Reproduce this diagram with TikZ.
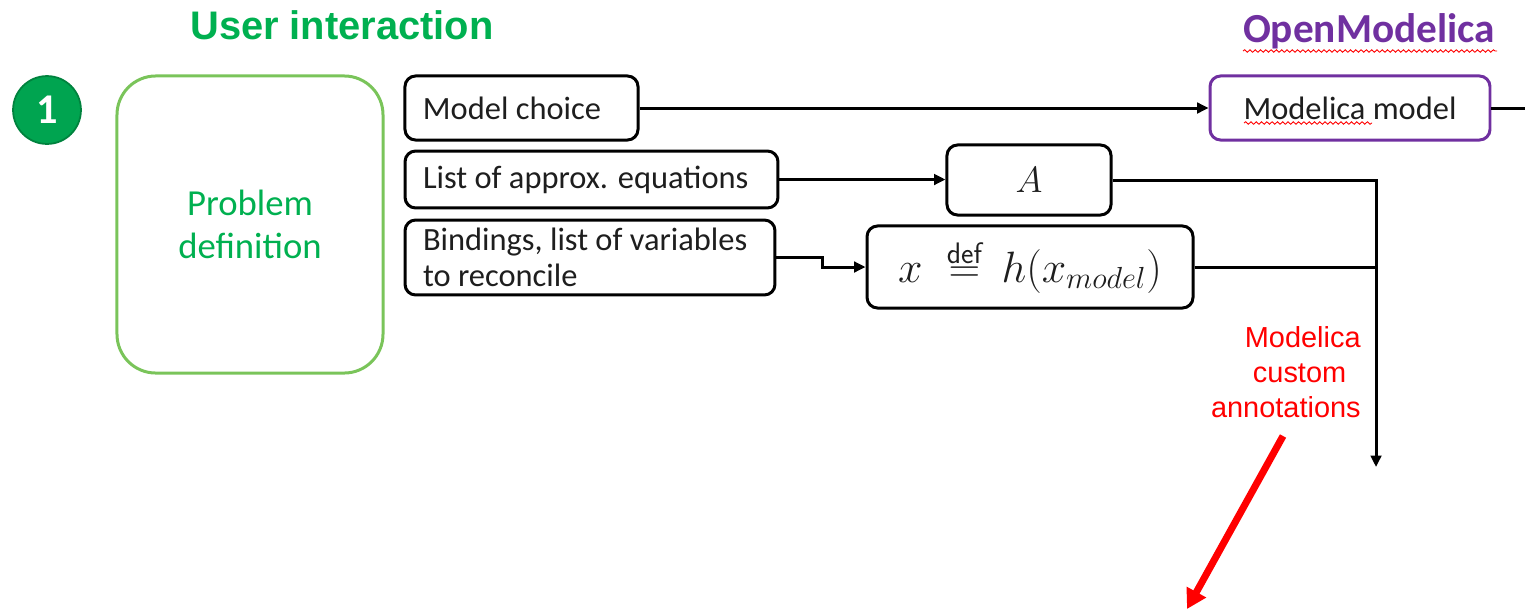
\documentclass[tikz,border=0pt]{standalone}
\usepackage{fontspec}
\setmainfont{Carlito}
\newfontfamily\arialf{Liberation Sans}
\usetikzlibrary{arrows.meta,decorations.pathmorphing}
\definecolor{uigreen}{RGB}{0,176,80}
\definecolor{boxgreen}{RGB}{122,196,90}
\definecolor{circgreen}{RGB}{0,164,80}
\definecolor{circedge}{RGB}{0,130,62}
\definecolor{ompurple}{RGB}{112,48,160}
\definecolor{txtgray}{RGB}{30,30,30}
\begin{document}
\begin{tikzpicture}[x=0.5669pt,y=-0.5669pt,
  box/.style={draw=black, line width=1.7pt, rounded corners=6pt, inner sep=0pt,
    font=\fontsize{18.4}{20.5}\selectfont, text=txtgray},
  lbox/.style={box, align=flush left, inner xsep=10.2pt},
  conn/.style={line width=1.7pt, draw=black},
  arr/.style={conn, -{Triangle[length=6.5pt,width=6pt]}},
  wavy/.style={draw=red, line width=0.5pt, decorate,
    decoration={snake, amplitude=0.7pt, segment length=3pt}}]
\useasboundingbox (0,0) rectangle (1525,613);

% titles
\node[font=\arialf\bfseries\fontsize{22.6}{26}\selectfont, text=uigreen] (title) at (342,25) {User interaction};
\node[font=\bfseries\fontsize{23.4}{27}\selectfont, text=ompurple] (om) at (1369,31) {OpenModelica};
\draw[wavy] (1243,51) -- (1497,51);

% step circle
\node[circle, fill=circgreen, draw=circedge, line width=1pt, minimum size=38.5pt,
  text=white, font=\bfseries\fontsize{24}{26}\selectfont] (c1) at (47,110) {1};

% problem definition
\node[draw=boxgreen, line width=1.7pt, rounded corners=22pt,
  minimum width=150.8pt, minimum height=168.4pt,
  align=center, text=uigreen, font=\fontsize{20.8}{24}\selectfont] (pd) at (250,224.5)
  {Problem\\definition};

% input boxes
\node[lbox, minimum height=36.3pt, text width=111.7pt] (mc) at (521.5,108) {Model choice};
\node[lbox, minimum height=32.3pt, text width=191.0pt] (la) at (591.5,179.5) {List of approx. equations};
\node[lbox, minimum height=42.5pt, text width=189.3pt] (bd) at (590,257.5) {Bindings, list of variables\\to reconcile};

% math boxes
\node[box, minimum width=93.0pt, minimum height=39.7pt,
  font=\fontsize{22}{26}\selectfont] (A) at (1029,180) {$A$};
\node[box, minimum width=184.8pt, minimum height=46.5pt,
  font=\fontsize{24}{28}\selectfont] (xd) at (1030,267)
  {$x\;\stackrel{\mathsf{def}}{=}\,h(x_{model})$};

% Modelica model
\node[box, draw=ompurple, minimum width=158.7pt, minimum height=36.3pt] (mm) at (1350,108) {Modelica model};
\draw[wavy] (1244,123) -- (1372,123);

% junction coordinates
\coordinate (jA) at (1376,181);
\coordinate (jx) at (1376,266);
\coordinate (jend) at (1376,467);
\coordinate (mmout) at (1525,108);
\coordinate (bstep) at (822,257.5);

% connectors
\draw[arr] (mc.east) -- (mm.west);
\draw[conn] (mm.east) -- (mmout);
\draw[arr] (la.east) -- (A.west |- la.east);
\draw[arr] (bd.east) -- (bstep) |- (xd.west);
\draw[arr] (A.east) -| (jend);
\draw[conn] (xd.east) -- (xd.east -| jx);

% red annotation
\node[anchor=east, align=right, inner sep=0pt, text=red,
  font=\arialf\fontsize{16.4}{19.8}\selectfont] (ann) at (1361,372)
  {Modelica\\custom\kern0.5em\\annotations};
\coordinate (ra1) at (1283,436);
\coordinate (ra2) at (1187,609);
\draw[red, line width=4pt, -{Triangle[length=11pt,width=12pt]}] (ra1) -- (ra2);
\end{tikzpicture}
\end{document}
